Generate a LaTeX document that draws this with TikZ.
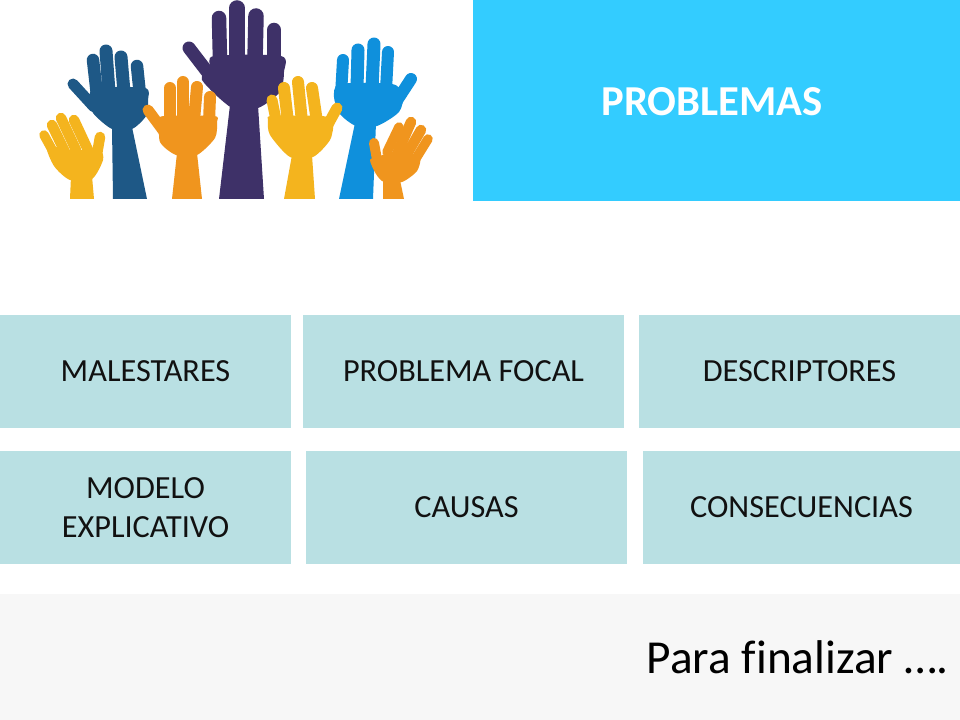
\documentclass[tikz,border=0pt]{standalone}
\usepackage{fontspec}
\setmainfont{Carlito}
\definecolor{tile}{HTML}{B9E0E3}
\definecolor{head}{HTML}{33CCFF}
\definecolor{band}{HTML}{F7F7F7}
\definecolor{ink}{HTML}{111111}
\definecolor{hyellow}{HTML}{F4B41E}
\definecolor{hnavy}{HTML}{1E5886}
\definecolor{horange}{HTML}{F0951E}
\definecolor{hpurple}{HTML}{3E3168}
\definecolor{hblue}{HTML}{0F90DC}
\newcommand{\fing}[3]{\draw[line width=#3*0.75pt,line cap=round] #1 -- #2;}
\newcommand{\lowered}[1]{\raisebox{-1.5pt}{#1}}
\tikzset{
  tilebox/.style={fill=tile,text=ink,inner sep=0pt,align=center,font=\fontsize{24.2}{29}\selectfont},
  handpart/.style={smooth cycle,tension=0.45},
}
\begin{document}
\begin{tikzpicture}[x=0.75pt,y=-0.75pt]
\useasboundingbox (0,0) rectangle (960,720);
\fill[white] (0,0) rectangle (960,720);
% navy hand
\begin{scope}[color=hnavy,fill=hnavy]
\fill (112,127) -- (113,199) -- (147,199) -- (132,127) -- cycle;
\fill plot[handpart] coordinates {(90,98) (93,113) (112,129) (132,129) (146,116) (148,100) (145,88) (95,88)};
\fing{(93,60)}{(97,95)}{12.5}
\fing{(106,51)}{(109,92)}{13}
\fing{(121,57)}{(124,92)}{13}
\fing{(137,66)}{(140,95)}{12.5}
\fing{(73,84)}{(94,107)}{11}
\end{scope}
% yellow left hand
\begin{scope}[color=hyellow,fill=hyellow]
\fill (71,176) -- (70,199) -- (94,199) -- (92,176) -- cycle;
\fill plot[handpart] coordinates {(47,146) (54,166) (70,180) (92,179) (103,160) (99,150) (70,150)};
\fing{(44,135)}{(55,155)}{9.5}
\fing{(52,125)}{(65,152)}{10.5}
\fing{(61,118)}{(76,150)}{10.5}
\fing{(74,120)}{(88,150)}{10.5}
\fing{(100,137)}{(96,160)}{10.5}
\end{scope}
% purple hand
\begin{scope}[color=hpurple,fill=hpurple]
\fill (230,105) -- (219,199) -- (264,199) -- (258,105) -- cycle;
\fill plot[handpart] coordinates {(202,80) (232,108) (258,108) (280,92) (284,72) (281,56) (214,56) (210,68)};
\fing{(219,18)}{(220,60)}{14.5}
\fing{(237,8)}{(237,60)}{15.5}
\fing{(256,16)}{(255,60)}{15.5}
\fing{(274,30)}{(274,62)}{14.5}
\fing{(189,48)}{(212,78)}{13}
\end{scope}
% orange left hand
\begin{scope}[color=horange,fill=horange]
\fill (177,153) -- (172,199) -- (202,199) -- (197,153) -- cycle;
\fill plot[handpart] coordinates {(160,142) (176,155) (197,155) (215,138) (217,122) (214,116) (165,116) (160,120)};
\fing{(170,88)}{(170,120)}{12}
\fing{(183,82)}{(183,118)}{12}
\fing{(197,87)}{(194,120)}{12}
\fing{(210,97)}{(209,122)}{12}
\fing{(148,110)}{(165,133)}{11}
\end{scope}
% light blue hand
\begin{scope}[color=hblue,fill=hblue]
\fill (355,123) -- (339,199) -- (373,199) -- (376,123) -- cycle;
\fill plot[handpart] coordinates {(334,97) (340,114) (356,126) (377,126) (399,112) (403,95) (392,84) (340,84)};
\fing{(343,60)}{(341,95)}{12}
\fing{(358,50)}{(357,88)}{13}
\fing{(374,44)}{(372,88)}{13}
\fing{(388,52)}{(386,90)}{12}
\fing{(411,79)}{(396,102)}{12}
\end{scope}
% yellow right hand
\begin{scope}[color=hyellow,fill=hyellow]
\fill (292,155) -- (284,199) -- (315,199) -- (312,155) -- cycle;
\fill plot[handpart] coordinates {(268,120) (270,135) (290,157) (313,157) (330,140) (333,122) (322,116) (272,116)};
\fing{(272,100)}{(277,125)}{11}
\fing{(284,88)}{(288,122)}{12}
\fing{(298,82)}{(302,122)}{12}
\fing{(312,88)}{(317,122)}{12}
\fing{(337,108)}{(325,130)}{11}
\end{scope}
% orange right hand
\begin{scope}[color=horange,fill=horange]
\fill (383,180) -- (383,199) -- (404,199) -- (400,180) -- cycle;
\fill plot[handpart] coordinates {(370,160) (376,174) (384,182) (402,182) (417,171) (420,157) (405,152) (388,153) (378,157)};
\fing{(399,127)}{(387,152)}{9.5}
\fing{(411,122)}{(397,154)}{10.5}
\fing{(421,130)}{(407,154)}{10.5}
\fing{(428,139)}{(415,160)}{9.5}
\fing{(374,143)}{(378,165)}{10}
\end{scope}
% panels
\node[fill=head,text=white,inner sep=0pt,minimum width=487*0.75pt,minimum height=201*0.75pt] (title) at (716.5,100.5) {};
\node[text=white,inner sep=0pt,font=\fontsize{32}{38}\selectfont\bfseries] (titletext) at (712,101.5) {PROBLEMAS};
\node[tilebox,minimum width=291*0.75pt,minimum height=113*0.75pt] (mal) at (145.5,371.5) {\lowered{MALESTARES}};
\node[tilebox,minimum width=321*0.75pt,minimum height=113*0.75pt] (foc) at (463.5,371.5) {\lowered{PROBLEMA FOCAL}};
\node[tilebox,minimum width=321*0.75pt,minimum height=113*0.75pt] (des) at (799.5,371.5) {\lowered{DESCRIPTORES}};
\node[tilebox,minimum width=291*0.75pt,minimum height=113*0.75pt] (mod) at (145.5,507.5) {MODELO\\EXPLICATIVO};
\node[tilebox,minimum width=321*0.75pt,minimum height=113*0.75pt] (cau) at (466.5,507.5) {\lowered{CAUSAS}};
\node[tilebox,minimum width=317*0.75pt,minimum height=113*0.75pt] (con) at (801.5,507.5) {\lowered{CONSECUENCIAS}};
\node[fill=band,inner sep=0pt,minimum width=960*0.75pt,minimum height=126*0.75pt] (bot) at (480,657) {};
\node[anchor=base east,text=black,inner sep=0pt,font=\fontsize{35.5}{42}\selectfont] (fin) at (949,673) {Para f\kern0pt inalizar ….};
\end{tikzpicture}
\end{document}
